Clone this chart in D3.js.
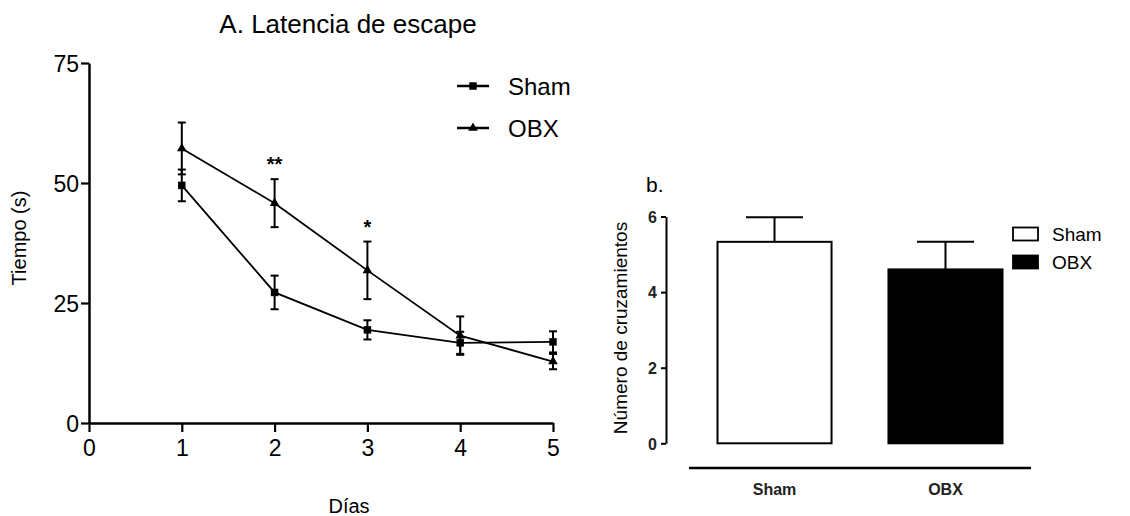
<!DOCTYPE html>
<html>
<head>
<meta charset="utf-8">
<script src="https://cdn.jsdelivr.net/npm/d3@7"></script>
<style>
  html, body { margin: 0; padding: 0; background: #fff; }
  svg { display: block; font-family: "Liberation Sans", Arial, sans-serif; }
</style>
</head>
<body>
<svg id="fig" width="1130" height="516"></svg>
<script>
// ---- Panel A: escape latency by day ----
const days = [1, 2, 3, 4, 5];
const shamLatency = [49.5, 27.2, 19.4, 16.7, 16.9];
const shamLatencyErr = [3.3, 3.5, 2.0, 2.3, 2.2];
const obxLatency = [57.2, 45.8, 31.8, 18.2, 12.8];
const obxLatencyErr = [5.4, 5.0, 6.0, 4.0, 1.6];
const latencyTicks = [0, 25, 50, 75];
const dayTicks = [0, 1, 2, 3, 4, 5];
const significance = [{ day: 2, label: "**" }, { day: 3, label: "*" }];

// ---- Panel b: crossings ----
const groups = ["Sham", "OBX"];
const crossings = [5.33, 4.6];
const crossingsErr = [0.65, 0.73];
const crossingTicks = [0, 2, 4, 6];

const svg = d3.select("#fig");
const ink = "#000";
const intFmt = d3.format("d");

// ================= Panel A =================
const xA = d3.scaleLinear().domain([0, 5]).range([89, 553]);
const yA = d3.scaleLinear().domain([0, 75]).range([423, 63]);

const gA = svg.append("g");

const yAxisA = gA.append("g")
  .attr("transform", `translate(${xA(0)},0)`)
  .call(d3.axisLeft(yA).tickValues(latencyTicks).tickFormat(intFmt)
    .tickSize(8).tickSizeOuter(0).tickPadding(2));
const xAxisA = gA.append("g")
  .attr("transform", `translate(0,${yA(0)})`)
  .call(d3.axisBottom(xA).tickValues(dayTicks).tickFormat(intFmt)
    .tickSize(9).tickSizeOuter(0).tickPadding(8));

[yAxisA, xAxisA].forEach(ax => {
  ax.select(".domain").attr("stroke", ink).attr("stroke-width", 2.5);
  ax.selectAll(".tick line").attr("stroke", ink).attr("stroke-width", 2.2);
  ax.selectAll(".tick text").attr("fill", ink)
    .style("font-size", "23px").style("font-family", "'Liberation Sans', Arial, sans-serif");
});
yAxisA.selectAll(".tick text").attr("dy", "0.36em");

const seriesA = [
  { name: "Sham", values: shamLatency, err: shamLatencyErr, marker: "square" },
  { name: "OBX", values: obxLatency, err: obxLatencyErr, marker: "triangle" }
];

const line = d3.line().x(d => xA(d.day)).y(d => yA(d.v));
const symSquare = d3.symbol().type(d3.symbolSquare).size(56);
const symTri = d3.symbol().type(d3.symbolTriangle).size(40);

seriesA.forEach(s => {
  const pts = days.map((day, i) => ({ day, v: s.values[i], e: s.err[i] }));
  gA.append("path").datum(pts)
    .attr("d", line).attr("fill", "none").attr("stroke", ink).attr("stroke-width", 1.8);
  const eb = gA.append("g").selectAll("g").data(pts).join("g");
  eb.append("line")
    .attr("x1", d => xA(d.day)).attr("x2", d => xA(d.day))
    .attr("y1", d => yA(d.v - d.e)).attr("y2", d => yA(d.v + d.e))
    .attr("stroke", ink).attr("stroke-width", 2);
  [1, -1].forEach(sign => {
    eb.append("line")
      .attr("x1", d => xA(d.day) - 4).attr("x2", d => xA(d.day) + 4)
      .attr("y1", d => yA(d.v + sign * d.e)).attr("y2", d => yA(d.v + sign * d.e))
      .attr("stroke", ink).attr("stroke-width", 2);
  });
  gA.append("g").selectAll("path").data(pts).join("path")
    .attr("transform", d => `translate(${xA(d.day)},${yA(d.v)})`)
    .attr("d", s.marker === "square" ? symSquare() : symTri())
    .attr("fill", ink);
});

// significance marks
gA.selectAll("text.sig").data(significance).join("text")
  .attr("class", "sig")
  .attr("x", d => xA(d.day))
  .attr("y", d => yA(obxLatency[days.indexOf(d.day)] + obxLatencyErr[days.indexOf(d.day)]) - 8)
  .attr("text-anchor", "middle")
  .attr("fill", ink)
  .style("font-size", "20px").style("font-weight", "bold")
  .text(d => d.label);

// legend
const legA = gA.append("g");
seriesA.forEach((s, i) => {
  const ly = 86 + i * 42;
  legA.append("line").attr("x1", 457).attr("x2", 489).attr("y1", ly).attr("y2", ly)
    .attr("stroke", ink).attr("stroke-width", 2.5);
  legA.append("path").attr("transform", `translate(473,${ly})`)
    .attr("d", s.marker === "square" ? symSquare() : symTri()).attr("fill", ink);
  legA.append("text").attr("x", 508).attr("y", ly).attr("dy", "0.36em")
    .attr("fill", ink).style("font-size", "24px").text(s.name);
});

// titles
svg.append("text").attr("x", 348).attr("y", 33).attr("text-anchor", "middle")
  .attr("fill", ink).style("font-size", "26px").text("A. Latencia de escape");
svg.append("text").attr("transform", "translate(26,238) rotate(-90)")
  .attr("text-anchor", "middle").attr("fill", ink).style("font-size", "20px").text("Tiempo (s)");
svg.append("text").attr("x", 349).attr("y", 513).attr("text-anchor", "middle")
  .attr("fill", ink).style("font-size", "20px").text("Días");

// ================= Panel b =================
const xB = d3.scaleBand().domain(groups).range([689, 1031]).paddingInner(0.333).paddingOuter(0.1667);
const yB = d3.scaleLinear().domain([0, 6]).range([443.3, 216.5]);

const gB = svg.append("g");
const yAxisB = gB.append("g")
  .attr("transform", "translate(666,0)")
  .call(d3.axisLeft(yB).tickValues(crossingTicks).tickFormat(intFmt)
    .tickSize(5).tickSizeOuter(0).tickPadding(4));
yAxisB.select(".domain").attr("stroke", ink).attr("stroke-width", 2);
yAxisB.selectAll(".tick line").attr("stroke", ink).attr("stroke-width", 2);
yAxisB.selectAll(".tick text").attr("fill", "#222").attr("dy", "0.36em")
  .style("font-size", "16px").style("font-weight", "bold")
  .style("font-family", "'Liberation Sans', Arial, sans-serif");

const barData = groups.map((g, i) => ({ g, v: crossings[i], e: crossingsErr[i] }));
const barFill = { Sham: "#fff", OBX: "#000" };

// error whiskers (upper only) drawn under the bars
gB.selectAll("g.err").data(barData).join("g").attr("class", "err").each(function (d) {
  const cx = xB(d.g) + xB.bandwidth() / 2;
  const g = d3.select(this);
  g.append("line").attr("x1", cx).attr("x2", cx).attr("y1", yB(d.v)).attr("y2", yB(d.v + d.e))
    .attr("stroke", ink).attr("stroke-width", 2);
  g.append("line").attr("x1", cx - xB.bandwidth() / 4).attr("x2", cx + xB.bandwidth() / 4)
    .attr("y1", yB(d.v + d.e)).attr("y2", yB(d.v + d.e))
    .attr("stroke", ink).attr("stroke-width", 2);
});

gB.selectAll("rect.bar").data(barData).join("rect").attr("class", "bar")
  .attr("x", d => xB(d.g)).attr("width", xB.bandwidth())
  .attr("y", d => yB(d.v)).attr("height", d => yB(0) - yB(d.v))
  .attr("fill", d => barFill[d.g]).attr("stroke", "#000").attr("stroke-width", 2);

// group baseline and labels
gB.append("line").attr("x1", 689).attr("x2", 1031).attr("y1", 468).attr("y2", 468)
  .attr("stroke", ink).attr("stroke-width", 2.5);
gB.selectAll("text.grp").data(groups).join("text").attr("class", "grp")
  .attr("x", d => xB(d) + xB.bandwidth() / 2).attr("y", 495)
  .attr("text-anchor", "middle").attr("fill", "#222")
  .style("font-size", "16px").style("font-weight", "bold").text(d => d);

// legend
groups.forEach((g, i) => {
  const ly = 234 + i * 28;
  gB.append("rect").attr("x", 1013).attr("y", ly - 6.5).attr("width", 25).attr("height", 13)
    .attr("fill", barFill[g]).attr("stroke", "#000").attr("stroke-width", 1.8);
  gB.append("text").attr("x", 1052).attr("y", ly).attr("dy", "0.36em")
    .attr("fill", ink).style("font-size", "19px").text(g);
});

svg.append("text").attr("x", 646).attr("y", 192).attr("fill", ink)
  .style("font-size", "21px").text("b.");
svg.append("text").attr("transform", "translate(627,328) rotate(-90)")
  .attr("text-anchor", "middle").attr("fill", ink).style("font-size", "19px")
  .text("Número de cruzamientos");
</script>
</body>
</html>
